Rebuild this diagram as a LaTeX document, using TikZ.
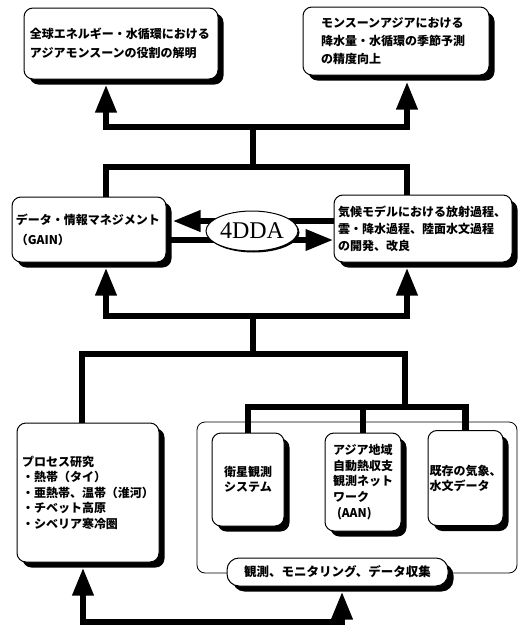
\documentclass[tikz,border=0pt]{standalone}
\usepackage{fontspec}
\setmainfont{Noto Sans CJK JP}
\newfontfamily\serifen{Liberation Serif}
\usetikzlibrary{arrows.meta,shapes.geometric,shadows,calc}
\pgfdeclarelayer{back}
\pgfdeclarelayer{bg}
\pgfsetlayers{back,bg,main}
\begin{document}
\begin{tikzpicture}[x=1pt,y=-1pt,
  box/.style={draw, line width=1pt, rounded corners=9pt, fill=white,
    drop shadow={shadow xshift=5.5pt, shadow yshift=-5.5pt, fill=black, opacity=1},
    inner sep=0pt},
  jp/.style={font=\bfseries\fontsize{12}{#1}\selectfont},
  conn/.style={line width=6.5pt},
  tip/.style={-{Triangle[width=20pt,length=28pt]}},
  tips/.style={{Triangle[width=20pt,length=28pt]}-{Triangle[width=20pt,length=28pt]}},
]
\begin{pgfonlayer}{back}
\fill[white] (0,0) rectangle (529,627);
\end{pgfonlayer}
\useasboundingbox (0,0) rectangle (529,627);

% top boxes
\node[box, jp=19, minimum width=194pt, minimum height=71pt, text width=182pt, align=left] (TL) at (121,43.5)
  {全球エネルギー・水循環における\\アジアモンスーンの役割の解明};
\node[box, jp=18, minimum width=186pt, minimum height=68pt, text width=150pt, align=left] (TR) at (396,41)
  {モンスーンアジアにおける\\降水量・水循環の季節予測\\の精度向上};

% middle boxes
\node[box, jp=20, minimum width=154pt, minimum height=65pt, text width=146pt, align=left] (ML) at (89,229.5)
  {データ・情報マネジメント\\（GAIN）};
\node[box, jp=17, minimum width=178pt, minimum height=67pt, text width=170pt, align=left] (MR) at (423,228.5)
  {気候モデルにおける放射過程、\\雲・降水過程、陸面水文過程\\の開発、改良};
\node[ellipse, draw, line width=1pt, fill=white, minimum width=92pt, minimum height=40pt, inner sep=0pt,
  drop shadow={shadow xshift=1.5pt, shadow yshift=-1.5pt, fill=black, opacity=1},
  font=\serifen\fontsize{24}{24}\selectfont] (dda) at (252,231) {4DDA};

% bottom left
\node[box, jp=15.5, minimum width=142pt, minimum height=139pt, text width=132pt, align=left] (BL) at (88,492.5)
  {プロセス研究\\・熱帯（タイ）\\・亜熱帯、温帯（淮河）\\・チベット高原\\・シベリア寒冷圏};

% container
\node[draw, line width=0.8pt, rounded corners=8pt, minimum width=320pt, minimum height=151pt, inner sep=0pt] (cont) at (357,497.5) {};
\node[box, jp=15, minimum width=72pt, minimum height=93pt, text width=60pt, align=center] (B1) at (248,479.5)
  {衛星観測\\システム};
\node[box, jp=15.7, minimum width=76pt, minimum height=98pt, text width=60pt, align=left] (B2) at (363,482)
  {アジア地域\\自動熱収支\\観測ネット\\ワーク\\\hspace*{4pt}(AAN)};
\node[box, jp=15, minimum width=75pt, minimum height=95pt, text width=72pt, align=left] (B3) at (465.5,478)
  {既存の気象、\\水文データ};
\node[box, rounded corners=12pt, font=\bfseries\fontsize{12.5}{14}\selectfont, minimum width=221pt, minimum height=28pt] (lab) at (337.5,572)
  {観測、モニタリング、データ収集};

% junctions
\coordinate (j1) at (253,127);
\coordinate (j1l) at (106,127);
\coordinate (j1r) at (407,127);
\coordinate (j2) at (253,167);
\coordinate (j3) at (253,316);
\coordinate (j4) at (253,354);
\coordinate (j4l) at (82,354);
\coordinate (j4r) at (405,354);
\coordinate (j5) at (405,407);
\coordinate (jb) at (212,622);

\begin{pgfonlayer}{bg}
% top
\draw[conn] (j2) -- (j1);
\draw[conn,tip] (j1) -| ($(TL.south -| j1l)+(0,5)$);
\draw[conn,tip] (j1) -| ($(TR.south -| j1r)+(0,6)$);
\draw[conn] (ML.north -| j1l) |- (j2) -| (MR.north -| j1r);
% middle arrows around 4DDA
\draw[conn,tip] (MR.west |- 0,221) -- ($(ML.east |- 0,221)+(6,0)$);
\draw[conn,tip] (ML.east |- 0,240) -- (MR.west |- 0,240);
% lower
\draw[conn,tip] (j3) -| ($(ML.south -| j1l)+(0,5)$);
\draw[conn,tip] (j3) -| ($(MR.south -| j1r)+(0,5)$);
\draw[conn] (j3) -- (j4);
\draw[conn] (BL.north -| j4l) |- (j4r) -- (j5);
\draw[conn] (B1.north) |- (j5) -| (B3.north);
\draw[conn] (B2.north) -- (B2.north |- j5);
% bottom
\draw[conn,tips] ($(BL.south)+(-5,5)$) |- (jb) -| ($(lab.south)+(4.5,5)$);
\end{pgfonlayer}
\end{tikzpicture}
\end{document}
